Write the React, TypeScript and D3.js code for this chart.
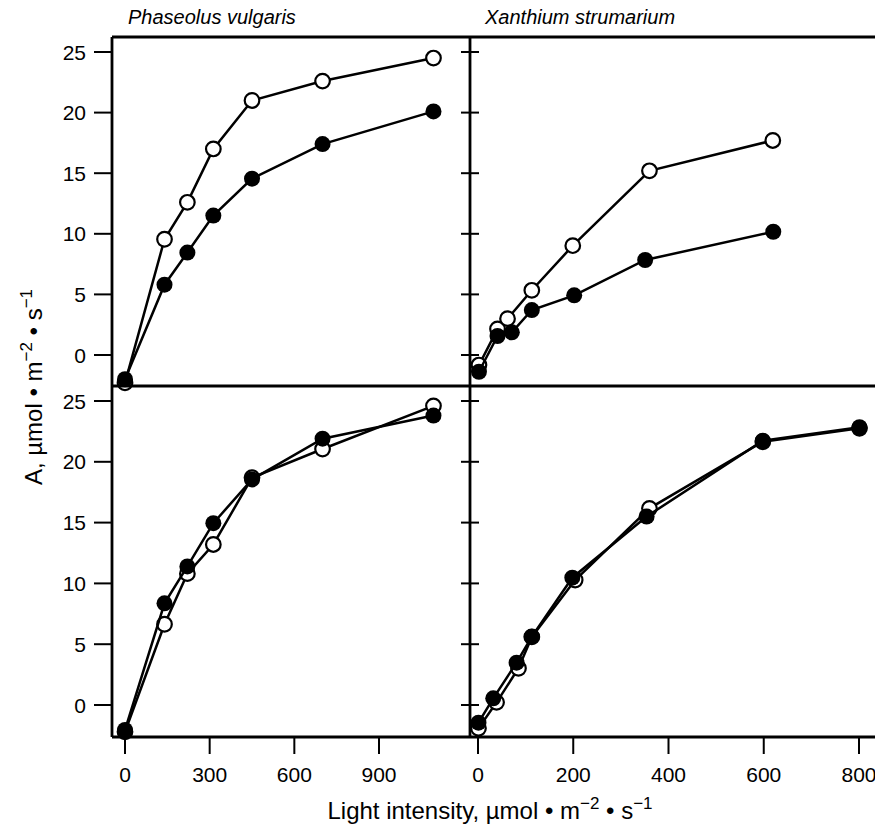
import React from 'react'
import * as d3 from 'd3'

// light intensity (µmol m-2 s-1) and net assimilation A
const pvX = [0, 140, 221, 313, 450, 700, 1093]
const pvOpenTop = [-2.3, 9.55, 12.6, 17.0, 21.0, 22.6, 24.5]
const pvFilledTop = [-2.0, 5.8, 8.45, 11.5, 14.55, 17.4, 20.1]
const pvOpenBottom = [-2.2, 6.64, 10.8, 13.2, 18.7, 21.05, 24.6]
const pvFilledBottom = [-2.05, 8.36, 11.4, 14.95, 18.55, 21.9, 23.8]

const xsOpenTopX = [2, 41, 62, 113, 199, 360, 619]
const xsOpenTop = [-0.83, 2.15, 3.0, 5.34, 9.02, 15.2, 17.7]
const xsFilledTopX = [2, 41, 71, 113, 202, 351, 620]
const xsFilledTop = [-1.38, 1.57, 1.87, 3.71, 4.92, 7.84, 10.17]

const xsOpenBottomX = [1, 39, 85, 113, 204, 360, 598, 801]
const xsOpenBottom = [-1.92, 0.22, 3.02, 5.6, 10.28, 16.17, 21.65, 22.75]
const xsFilledBottomX = [1, 32, 81, 113, 198, 354, 598, 801]
const xsFilledBottom = [-1.45, 0.55, 3.48, 5.62, 10.47, 15.5, 21.74, 22.84]

const yTicks = [0, 5, 10, 15, 20, 25]
const pvTicks = [0, 300, 600, 900]
const xsTicks = [0, 200, 400, 600, 800]

const font = '"Liberation Sans", Arial, Helvetica, sans-serif'

const left = 112
const mid = 470
const right = 875
const top = 37
const midY = 386
const bottom = 737

const xPv = d3.scaleLinear().domain([0, 900]).range([125, 379])
const xXs = d3.scaleLinear().domain([0, 800]).range([478, 859])
const yTop = d3.scaleLinear().domain([0, 25]).range([355, 52])
const yBot = d3.scaleLinear().domain([0, 25]).range([705, 401])

const Series = ({ xs, ys, xScale, yScale, filled }) => {
    const pts = xs.map((x, i) => [xScale(x), yScale(ys[i])])
    const line = d3.line()
    return (
        <g>
            <path d={line(pts)} fill="none" stroke="#000" strokeWidth={2.5} />
            {pts.map((p, i) => (
                <circle
                    key={i}
                    cx={p[0]}
                    cy={p[1]}
                    r={filled ? 8 : 7.3}
                    fill={filled ? '#000' : '#fff'}
                    stroke="#000"
                    strokeWidth={filled ? 0 : 2.2}
                />
            ))}
        </g>
    )
}

const App = () => {
    const yTickEls = [yTop, yBot].map((ys, k) =>
        yTicks.map((t) => (
            <g key={`y${k}${t}`}>
                <line x1={94} x2={left} y1={ys(t)} y2={ys(t)} stroke="#000" strokeWidth={2} />
                <line x1={mid - 9} x2={mid + 9} y1={ys(t)} y2={ys(t)} stroke="#000" strokeWidth={2} />
                <text x={86} y={ys(t)} dy="0.36em" textAnchor="end" fontSize={21}>{t}</text>
            </g>
        ))
    )
    const xTickEls = [
        ...pvTicks.map((t) => ({ t, x: xPv(t) })),
        ...xsTicks.map((t) => ({ t, x: xXs(t) })),
    ].map((d, i) => (
        <g key={`x${i}`}>
            <line x1={d.x} x2={d.x} y1={bottom} y2={bottom + 17} stroke="#000" strokeWidth={2} />
            <text x={d.x} y={782} textAnchor="middle" fontSize={21}>{d.t}</text>
        </g>
    ))
    return (
        <svg
            width={875}
            height={830}
            style={{ position: 'absolute', left: 0, top: 0, background: '#fff' }}
            fontFamily={font}
        >
            <rect width={875} height={830} fill="#fff" />
            <text x={128} y={24} fontSize={20} fontStyle="italic">Phaseolus vulgaris</text>
            <text x={485} y={24} fontSize={20} fontStyle="italic">Xanthium strumarium</text>

            <Series xs={pvX} ys={pvOpenTop} xScale={xPv} yScale={yTop} filled={false} />
            <Series xs={pvX} ys={pvFilledTop} xScale={xPv} yScale={yTop} filled />
            <Series xs={pvX} ys={pvOpenBottom} xScale={xPv} yScale={yBot} filled={false} />
            <Series xs={pvX} ys={pvFilledBottom} xScale={xPv} yScale={yBot} filled />
            <Series xs={xsOpenTopX} ys={xsOpenTop} xScale={xXs} yScale={yTop} filled={false} />
            <Series xs={xsFilledTopX} ys={xsFilledTop} xScale={xXs} yScale={yTop} filled />
            <Series xs={xsOpenBottomX} ys={xsOpenBottom} xScale={xXs} yScale={yBot} filled={false} />
            <Series xs={xsFilledBottomX} ys={xsFilledBottom} xScale={xXs} yScale={yBot} filled />

            <g stroke="#000" strokeWidth={2.8} fill="none">
                <line x1={left} x2={right} y1={top} y2={top} />
                <line x1={left} x2={right} y1={midY} y2={midY} />
                <line x1={left} x2={right} y1={bottom} y2={bottom} />
                <line x1={left} x2={left} y1={top} y2={bottom} />
                <line x1={mid} x2={mid} y1={top} y2={bottom} />
            </g>
            {yTickEls}
            {xTickEls}

            <text transform="translate(42,387) rotate(-90)" textAnchor="middle" fontSize={24}>
                A, µmol • m<tspan dy={-10} fontSize={17}>−2</tspan>
                <tspan dy={10}> • s</tspan>
                <tspan dy={-10} fontSize={17}>−1</tspan>
            </text>
            <text x={490} y={819} textAnchor="middle" fontSize={24}>
                Light intensity, µmol • m<tspan dy={-10} fontSize={17}>−2</tspan>
                <tspan dy={10}> • s</tspan>
                <tspan dy={-10} fontSize={17}>−1</tspan>
            </text>
        </svg>
    )
}

export default App
